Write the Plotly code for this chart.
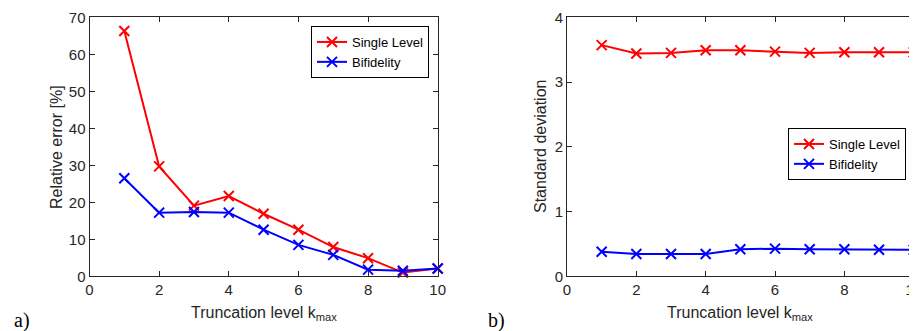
import plotly.graph_objects as go

k_levels = [1, 2, 3, 4, 5, 6, 7, 8, 9, 10]
err_single = [66.3, 29.7, 19.1, 21.7, 16.9, 12.6, 7.9, 4.9, 1.0, 2.1]
err_bifi = [26.5, 17.2, 17.4, 17.2, 12.6, 8.5, 5.8, 1.8, 1.5, 2.1]
std_single = [3.57, 3.44, 3.45, 3.49, 3.49, 3.47, 3.45, 3.46, 3.46, 3.46]
std_bifi = [0.38, 0.345, 0.345, 0.345, 0.417, 0.427, 0.417, 0.417, 0.41, 0.41]

RED = "#ff0000"
BLUE = "#0000ff"
AX = "#262626"
FONT = "Liberation Sans, Arial, sans-serif"
SERIF = "Liberation Serif, Times New Roman, serif"
# the page body has an 8px default margin; compensate so the figure fills 917x331
OFF = 8
W, H = 917 - OFF, 331 - OFF

fig = go.Figure()

def add(x, y, name, color, xa, ya, legend):
    fig.add_trace(go.Scatter(
        x=x, y=y, name=name, mode="lines+markers",
        line=dict(color=color, width=2),
        marker=dict(symbol="x-thin", size=10, line=dict(color=color, width=2), color=color),
        xaxis=xa, yaxis=ya, legend=legend, cliponaxis=False,
    ))

add(k_levels, err_single, "Single Level", RED, "x", "y", "legend")
add(k_levels, err_bifi, "Bifidelity", BLUE, "x", "y", "legend")
add(k_levels, std_single, "Single Level", RED, "x2", "y2", "legend2")
add(k_levels, std_bifi, "Bifidelity", BLUE, "x2", "y2", "legend2")

axis_common = dict(
    showline=True, linecolor=AX, linewidth=1, mirror="ticks",
    ticks="inside", ticklen=5, tickcolor=AX, tickwidth=1,
    showgrid=False, zeroline=False, automargin=False,
    ticklabeloverflow="allow",
    tickfont=dict(family=FONT, size=15, color=AX),
)

def fx(x):
    return (x - OFF) / W

def fy(y):
    return 1 - (y - OFF) / H

ydom = [fy(276.3), fy(17.3)]

annotations = []
def ann(text, x, y, size, family=FONT, angle=0, color=AX):
    annotations.append(dict(text=text, x=fx(x), y=fy(y), xref="paper", yref="paper",
                            xanchor="center", yanchor="middle", showarrow=False,
                            textangle=angle, font=dict(family=family, size=size, color=color)))

ann("Truncation level k<sub>max</sub>", 264, 313, 16)
ann("Truncation level k<sub>max</sub>", 740, 313, 16)
ann("Relative error [%]", 56, 147, 16, angle=-90)
ann("Standard deviation", 540, 147, 16, angle=-90)
ann("a)", 22, 320, 20, family=SERIF, color="#000000")
ann("b)", 497, 320, 20, family=SERIF, color="#000000")

legend_common = dict(xanchor="right", yanchor="top",
                     bordercolor="#000000", borderwidth=1, bgcolor="white",
                     font=dict(family=FONT, size=13, color="#000000"),
                     tracegroupgap=0, itemwidth=30)

fig.update_layout(
    width=W, height=H,
    margin=dict(l=0, r=0, t=0, b=0),
    paper_bgcolor="white", plot_bgcolor="white",
    xaxis=dict(domain=[fx(89.5), fx(437.7)], range=[0, 10], dtick=2, anchor="y", **axis_common),
    yaxis=dict(domain=ydom, range=[0, 70], dtick=10, anchor="x", **axis_common),
    xaxis2=dict(domain=[fx(567), fx(913.7)], range=[0, 10], dtick=2, anchor="y2", **axis_common),
    yaxis2=dict(domain=ydom, range=[0, 4], dtick=1, anchor="x2", **axis_common),
    legend=dict(x=fx(429), y=fy(26), **legend_common),
    legend2=dict(x=fx(906), y=fy(128), **legend_common),
    showlegend=True,
    annotations=annotations,
)

fig.write_html("out.html")
